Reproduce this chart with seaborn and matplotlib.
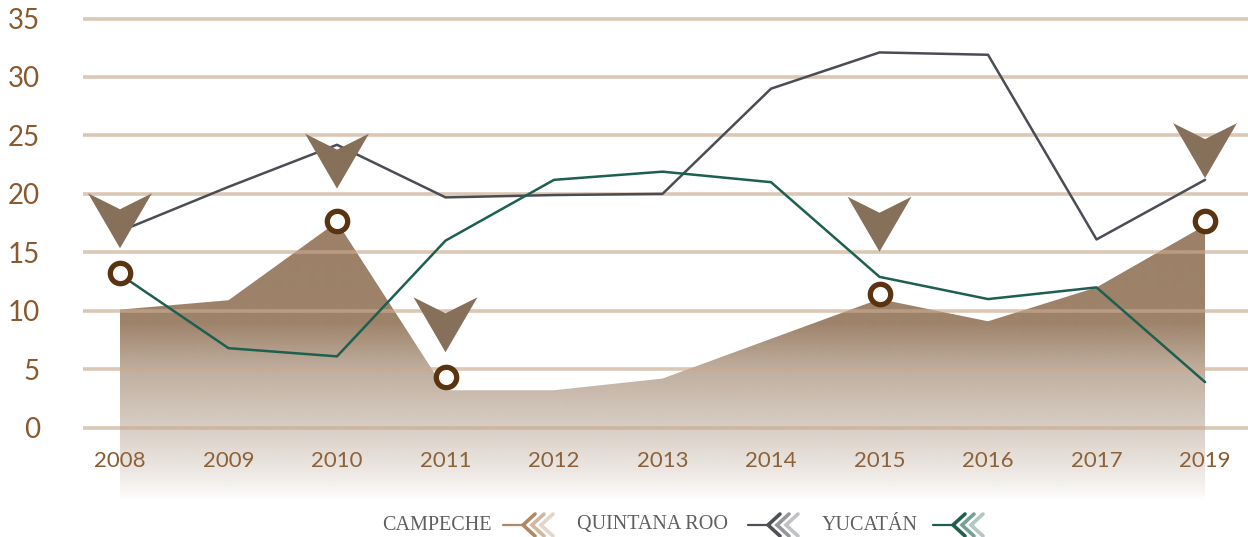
import numpy as np
import pandas as pd
import matplotlib.pyplot as plt
from matplotlib.path import Path
from matplotlib.lines import Line2D
import seaborn as sns

# data
years = ["2008", "2009", "2010", "2011", "2012", "2013", "2014", "2015", "2016", "2017", "2019"]
campeche = [10.1, 10.9, 17.6, 3.2, 3.2, 4.2, 7.6, 11.0, 9.1, 12.0, 17.3]
quintana_roo = [16.8, 20.6, 24.2, 19.7, 19.9, 20.0, 29.0, 32.1, 31.9, 16.1, 21.2]
yucatan = [13.1, 6.8, 6.1, 16.0, 21.2, 21.9, 21.0, 12.9, 11.0, 12.0, 3.9]

# highlighted years: ring marker and a pointer above it
hl_years = ["2008", "2010", "2011", "2015", "2019"]
hl_ring = [13.2, 17.7, 4.3, 11.4, 17.7]
hl_pointer = [17.7, 22.8, 8.8, 17.4, 23.7]

yticks = [0, 5, 10, 15, 20, 25, 30, 35]

W, H = 1248, 537
sns.set_style("white")
plt.rcParams['font.family'] = ['Lato', 'DejaVu Sans']

fig = plt.figure(figsize=(W / 100, H / 100), dpi=100)
ax = fig.add_axes([83 / W, (H - 501.3) / H, 1165 / W, 500.3 / H])

x = np.arange(len(years))
pos = {y: i for i, y in enumerate(years)}
ybot = -6.3

# Campeche area with vertical gradient
poly = ax.fill_between(x, campeche, ybot, facecolor='none', edgecolor='none')
gy = np.linspace(ybot, max(campeche), 300)
alpha = np.interp(gy, [ybot, -4.5, 0, 5, 9, 18], [0.0, 0.14, 0.38, 0.62, 0.95, 0.97])
rgba = np.zeros((300, 1, 4))
rgba[..., :3] = np.array([152, 124, 98]) / 255
rgba[:, 0, 3] = alpha
im = ax.imshow(rgba, extent=[x[0], x[-1], ybot, max(campeche)], origin='lower',
               aspect='auto', zorder=1, interpolation='bilinear')
im.set_clip_path(poly.get_paths()[0], ax.transData)

# grid lines drawn over the area
for t in yticks:
    ax.axhline(t, color=(200 / 255, 170 / 255, 143 / 255), alpha=0.65, lw=2.6, zorder=2)

sns.lineplot(x=x, y=quintana_roo, ax=ax, color='#4b4d55', lw=1.8, zorder=3)
sns.lineplot(x=x, y=yucatan, ax=ax, color='#1d5f50', lw=1.8, zorder=3)

hl = pd.DataFrame({'x': [pos[y] for y in hl_years], 'ring': hl_ring, 'pointer': hl_pointer})

pointer = Path([(-1, 0.86), (0, 0.36), (1, 0.86), (0, -0.86), (-1, 0.86)],
               [Path.MOVETO, Path.LINETO, Path.LINETO, Path.LINETO, Path.CLOSEPOLY])
sns.scatterplot(data=hl, x='x', y='pointer', ax=ax, marker=pointer, s=46 ** 2,
                color='#86705a', edgecolor='none', zorder=5)
sns.scatterplot(data=hl, x='x', y='ring', ax=ax, marker='o', s=215,
                facecolor='white', edgecolor='#5a3410', linewidth=3.8, zorder=6)

ax.set_xlim(-0.341, 10.396)
ax.set_ylim(ybot, 36.5)
ax.set_xticks(x)
ax.set_xticklabels(years)
ax.set_yticks(yticks)
ax.set_yticklabels([str(t) for t in yticks])
ax.tick_params(axis='x', length=0, pad=-36, labelsize=16, labelcolor='#8a5a2e')
ax.tick_params(axis='y', length=0, pad=31, labelsize=20, labelcolor='#8a5a2e')
ax.set_xlabel('')
ax.set_ylabel('')
for s in ax.spines.values():
    s.set_visible(False)
ax.patch.set_alpha(0)


# legend drawn by hand: label, short line, fading chevrons
def fx(px):
    return px / W


def fy(py):
    return (H - py) / H


legend_items = [
    ("CAMPECHE", 382, 503, (176, 136, 100)),
    ("QUINTANA ROO", 577, 748, (78, 80, 86)),
    ("YUCATÁN", 822, 933, (30, 95, 80)),
]
cy = 525
for label, tx, lx, col in legend_items:
    c = np.array(col) / 255
    fig.text(fx(tx), fy(cy), label, family=['Liberation Serif', 'DejaVu Serif'],
             fontsize=14.5, color='#5f5f5f', va='center', ha='left')
    fig.add_artist(Line2D([fx(lx), fx(lx + 22)], [fy(cy), fy(cy)],
                          transform=fig.transFigure, color=c, lw=1.6))
    for k, a in enumerate([1.0, 0.6, 0.35]):
        cx = lx + 20 + k * 9
        fig.add_artist(Line2D([fx(cx + 12), fx(cx), fx(cx + 12)],
                              [fy(cy - 11), fy(cy), fy(cy + 11)],
                              transform=fig.transFigure, color=c, alpha=a, lw=2.6,
                              solid_joinstyle='miter'))

fig.savefig('out.png', dpi=100)
